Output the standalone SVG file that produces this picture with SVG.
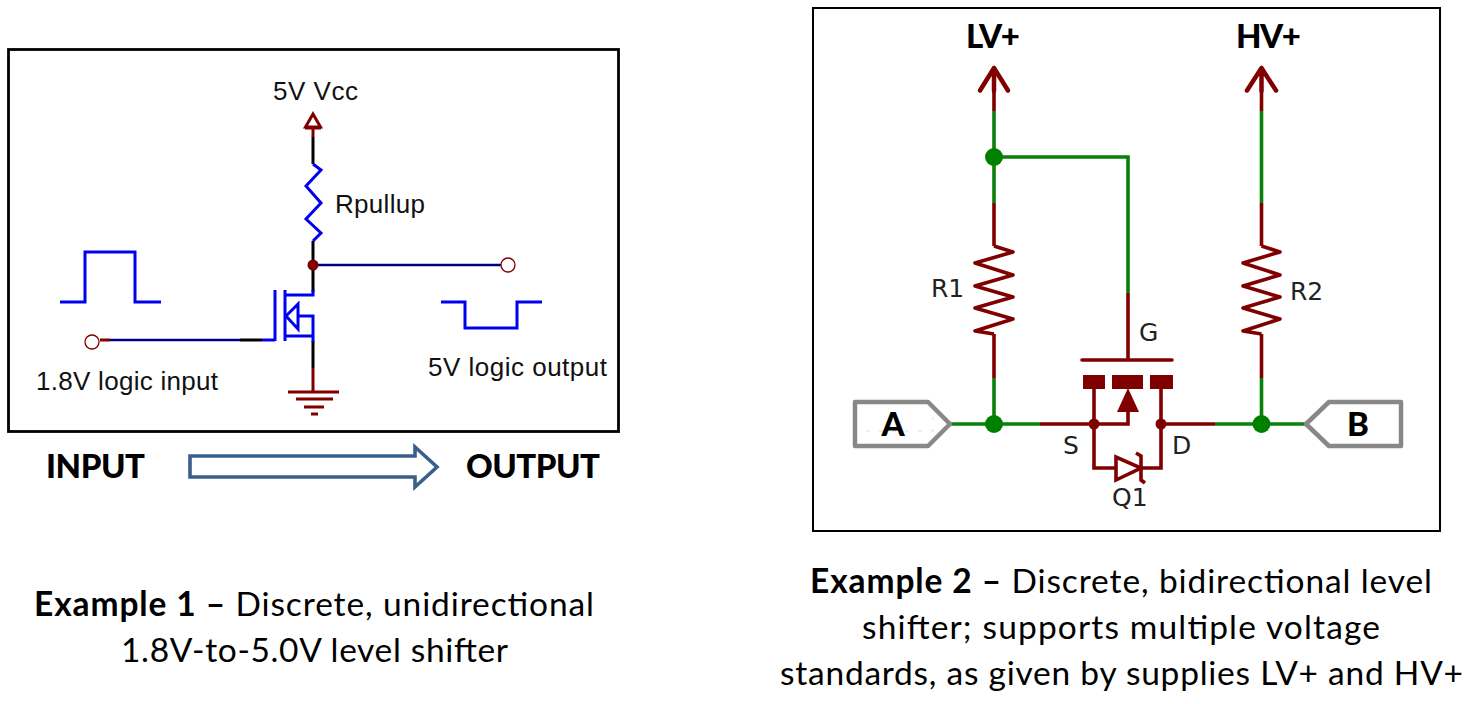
<svg xmlns="http://www.w3.org/2000/svg" width="1482" height="704" viewBox="0 0 1482 704">
<style>
.w{fill:none;stroke-linejoin:miter;stroke-linecap:butt}
.blue{stroke:#0000f0;stroke-width:3}
.blk{stroke:#000;stroke-width:3}
.brn{stroke:#800000;stroke-width:3}
.nav{stroke:#000080;stroke-width:2.400}
.g{stroke:#0a800a;stroke-width:3.600}
.r{stroke:#800000;stroke-width:3.600}
.arial{font-family:"Liberation Sans",Arial,sans-serif;font-size:26px;fill:#111}
.dj{font-family:"DejaVu Sans",sans-serif;font-size:25px;fill:#222}
.cal{font-family:Lato,"Open Sans",sans-serif;font-size:33.500px;fill:#000}
.b{font-weight:700}
.h{font-size:33px;font-weight:900}
</style>
<rect width="1482" height="704" fill="#fff"/>
<g id="frame-left"><rect x="8.500" y="49.500" width="610" height="382" fill="none" stroke="#000" stroke-width="2.800"/></g>
<g id="frame-right"><rect x="813" y="8" width="627" height="523" fill="none" stroke="#000" stroke-width="2"/></g>

<g id="connectors">
<path class="w brn" d="M313 128V137"/>
<path class="w blk" d="M313 137V164M313 241V292M313 341V368M240 340H262"/>
<path class="w brn" d="M313 368V392M100 340H110"/>
<path class="w nav" d="M110 340H240M318 265H503"/>
<path class="w blue" d="M262 340H275"/>
<path class="w g" d="M994 111V203M994 157H1128V293M994 378V424M950 424H1040M1215 424H1306M1261.500 111V203M1261.500 378V424"/>
<path class="w r" d="M994 91V111M994 203V246M994 334V378M1261.500 91V111M1261.500 203V246M1261.500 334V378M1128 293V360M1040 424H1094M1161 424H1215"/>
</g>

<g id="vcc"><path d="M313 114L305.500 127H320.500Z" fill="#fff" stroke="#800000" stroke-width="3"/><path class="w brn" d="M305 128H321"/><text class="arial" x="273" y="100" textLength="85">5V Vcc</text></g>
<g id="rpullup"><path class="w blue" d="M313 164L321 170L306 186L321 203L306 219L321 233L313 241"/><text class="arial" x="335" y="213" textLength="90">Rpullup</text></g>
<g id="output-node"><circle cx="313" cy="265" r="5.500" fill="#800000"/><circle cx="508" cy="265" r="7" fill="#fff" stroke="#800000" stroke-width="1.300"/></g>
<g id="mosfet-left">
<path class="w blue" d="M275 290V341M285 290V341M285 295H313V290M285 336H313M313 342V316H297"/>
<path d="M286 316L298 304V329Z" fill="#fff" stroke="#0000f0" stroke-width="3"/>
</g>
<g id="ground"><path class="w brn" d="M288 392H339M296 399H333M304 407H324M311 414H318"/></g>
<g id="input-node"><circle cx="92" cy="342" r="7" fill="#fff" stroke="#800000" stroke-width="1.300"/><text class="arial" x="36" y="390" textLength="182">1.8V logic input</text></g>
<g id="input-pulse"><path class="w blue" d="M60 302H85V252H135V302H161"/></g>
<g id="output-pulse"><path class="w blue" d="M441 302H465V328H517V302H542"/><text class="arial" x="428" y="376" textLength="179">5V logic output</text></g>
<g id="flow">
<text class="cal h" x="46" y="478" textLength="99">INPUT</text>
<path d="M190 456H415V447L437 467L415 487V477H190Z" fill="#fff" stroke="#3a5f8c" stroke-width="3.600"/>
<text class="cal h" x="466" y="478" textLength="134">OUTPUT</text>
</g>
<g id="caption-1">
<text class="cal" x="34" y="616" textLength="560"><tspan class="b">Example 1 –</tspan> Discrete, unidirectional</text>
<text class="cal" x="121" y="662" textLength="387">1.8V-to-5.0V level shifter</text>
</g>

<g id="lv"><text class="cal h" x="966" y="48" textLength="54">LV+</text><path class="w r" style="stroke-width:4.500;stroke-linecap:round;stroke-linejoin:round" d="M980 90.500L994 68L1008 90.500M994 68V91"/><circle cx="994" cy="157" r="9" fill="#008000"/></g>
<g id="hv"><text class="cal h" x="1236" y="48" textLength="65">HV+</text><path class="w r" style="stroke-width:4.500;stroke-linecap:round;stroke-linejoin:round" d="M1247 90.500L1261.500 68L1276 90.500M1261.500 68V91"/></g>
<g id="r1"><path class="w r" style="stroke-linejoin:round" d="M994 246L1013 252L975 263L1013 275L975 286L1013 297L975 308L1013 319L975 331L994 334"/><text class="dj" x="931" y="297">R1</text></g>
<g id="r2"><path class="w r" style="stroke-linejoin:round" d="M1261.500 246L1280 252L1243 263L1280 275L1243 286L1280 297L1243 308L1280 319L1243 331L1261.500 334"/><text class="dj" x="1290" y="300">R2</text></g>
<g id="q1">
<path class="w r" style="stroke-linecap:round" d="M1082 360H1172"/>
<path d="M1083 375h22v14h-22zM1112 375h31v14h-31zM1150 375h23v14h-23z" fill="#800000"/>
<path class="w r" d="M1094 389V468H1116M1161 389V468H1141M1094 424H1128V410"/>
<path d="M1128 388L1117 412H1139Z" fill="#800000"/>
<circle cx="1094" cy="424" r="5.500" fill="#800000"/><circle cx="1161" cy="424" r="5.500" fill="#800000"/>
<path class="w r" d="M1116 457V480L1141 468Z"/>
<path class="w r" d="M1136 453L1141 456V480L1145 483"/>
<text class="dj" x="1139" y="341">G</text><text class="dj" x="1063" y="454">S</text><text class="dj" x="1172" y="454">D</text><text class="dj" x="1112" y="506">Q1</text>
</g>
<g id="port-a"><path d="M855 402H928L950 424L928 446H855Z" fill="#fff" stroke="#888" stroke-width="4.500" stroke-linejoin="round"/><path d="M866 431H933V417" fill="none" stroke="#ddd" stroke-width="1" stroke-dasharray="4 9"/><text class="cal h" x="893" y="436" text-anchor="middle">A</text><circle cx="994" cy="424" r="9" fill="#008000"/></g>
<g id="port-b"><path d="M1401 402H1329L1306 424L1329 446H1401Z" fill="#fff" stroke="#888" stroke-width="4.500" stroke-linejoin="round"/><text class="cal h" x="1358" y="436" text-anchor="middle">B</text><circle cx="1261.500" cy="424" r="9" fill="#008000"/></g>
<g id="caption-2">
<text class="cal" x="810" y="593" textLength="622"><tspan class="b">Example 2 –</tspan> Discrete, bidirectional level</text>
<text class="cal" x="862" y="639" textLength="518">shifter; supports multiple voltage</text>
<text class="cal" x="780" y="685" textLength="683">standards, as given by supplies LV+ and HV+</text>
</g>
</svg>
